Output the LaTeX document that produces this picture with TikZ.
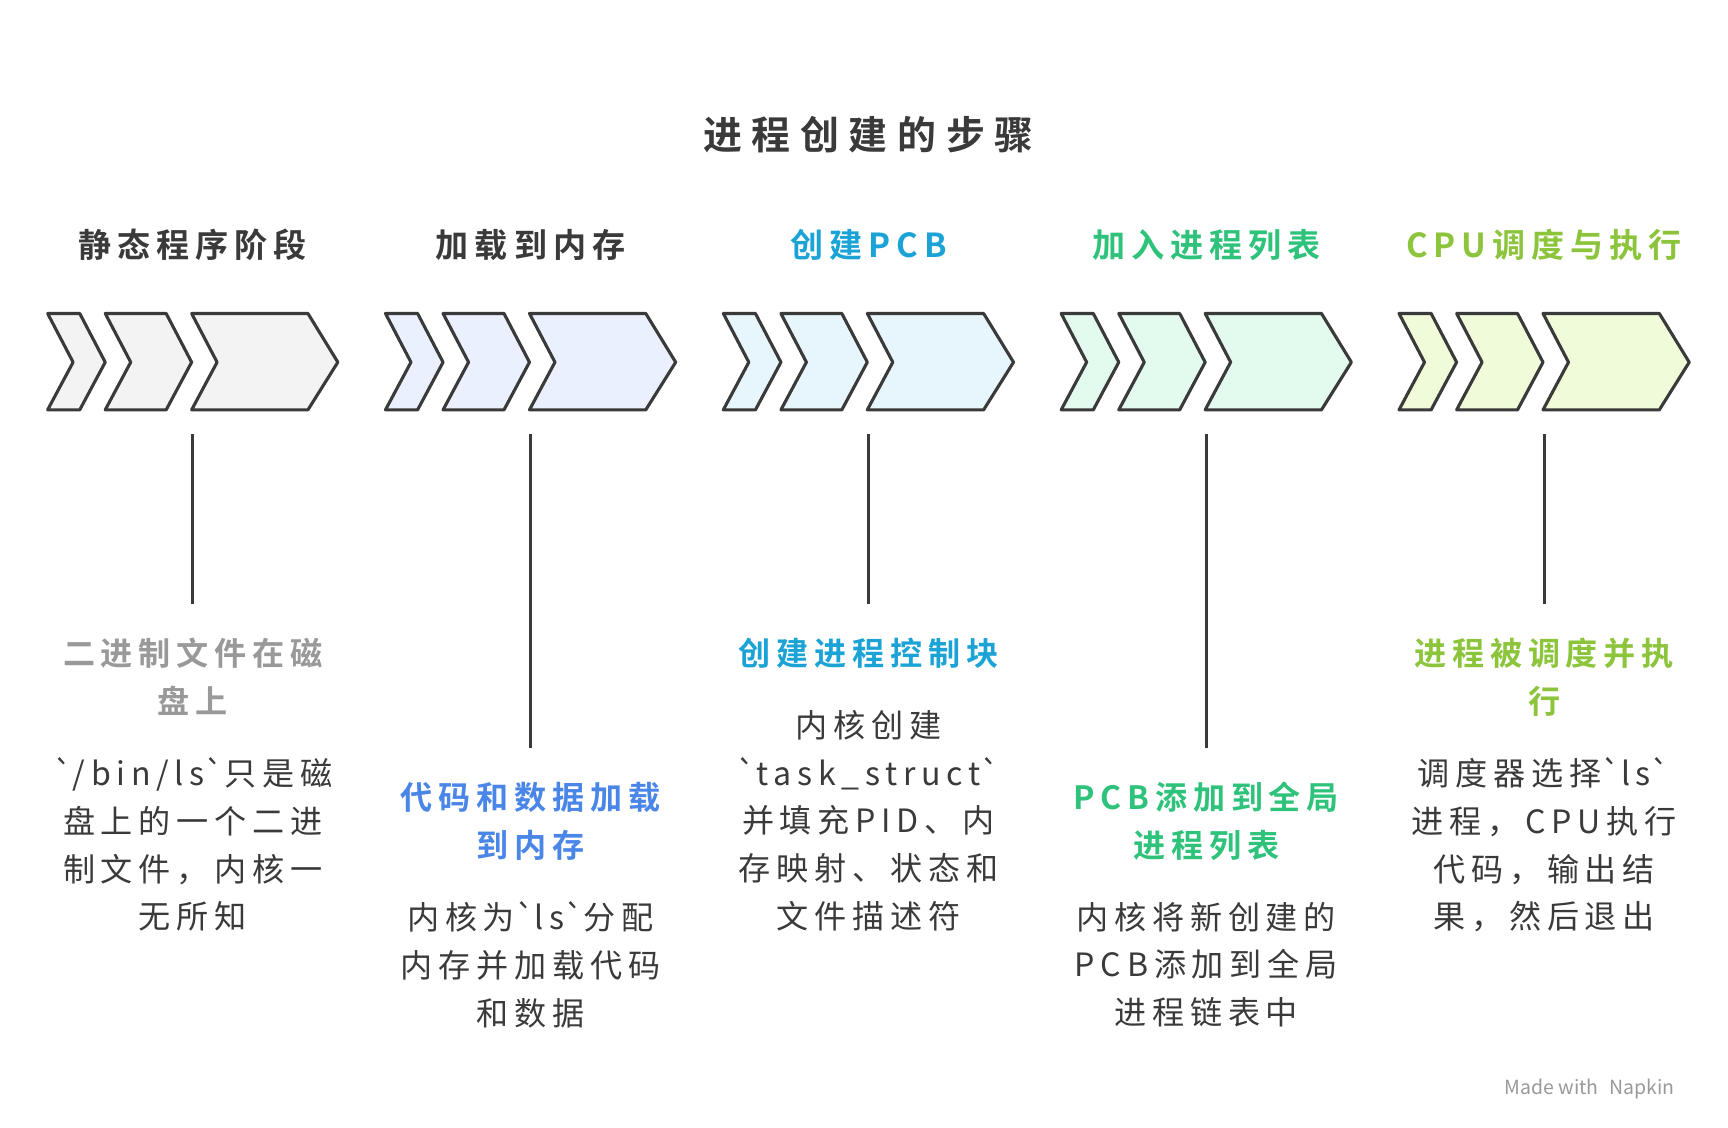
\documentclass[tikz,border=0pt]{standalone}
\usepackage{fontspec}
\setmainfont{Noto Sans CJK SC}
\newfontfamily\cjk[LetterSpace=18]{Noto Sans CJK SC}
\newfontfamily\cjkb[LetterSpace=18]{Noto Sans CJK SC Bold}
\newfontfamily\cjkt[LetterSpace=25]{Noto Sans CJK SC Bold}
\newcommand{\bq}{\textasciigrave}
\definecolor{dk}{HTML}{3A3A3A}
\definecolor{cA}{HTML}{999999}
\definecolor{cB}{HTML}{4A86E8}
\definecolor{cC}{HTML}{1BA3D6}
\definecolor{cD}{HTML}{2EC27A}
\definecolor{cE}{HTML}{8CC43C}
\definecolor{fA}{HTML}{F3F3F3}
\definecolor{fB}{HTML}{EAF0FD}
\definecolor{fC}{HTML}{E7F6FD}
\definecolor{fD}{HTML}{E3FAEF}
\definecolor{fE}{HTML}{F0FBDA}
\begin{document}
\begin{tikzpicture}[x=0.02cm,y=-0.02cm,
 chev/.style={draw=dk,line width=1.6pt,line join=round},
 stem/.style={draw=dk,line width=1.6pt},
 top/.style={font=\cjkb\fontsize{17}{20}\selectfont,anchor=center},
 head/.style={font=\cjkb\fontsize{16.5}{24.5}\selectfont,align=center,anchor=north},
 body/.style={font=\cjk\fontsize{16.5}{24.5}\selectfont,align=center,anchor=north,text=dk}]
\useasboundingbox (0,0) rectangle (1560,1018);
\node[font=\cjkt\fontsize{20}{24}\selectfont,text=dk] (title) at (784,122) {进程创建的步骤};
\foreach \i/\f in {0/fA,1/fB,2/fC,3/fD,4/fE}{
 \begin{scope}[xshift=\i*305*0.02cm]
 \draw[chev,fill=\f] (43,283)--(72,283)--(95,327)--(72,370)--(43,370)--(66,327)--cycle;
 \draw[chev,fill=\f] (95,283)--(150,283)--(173,327)--(150,370)--(95,370)--(118,327)--cycle;
 \draw[chev,fill=\f] (173,283)--(278,283)--(305,327)--(278,370)--(173,370)--(196,327)--cycle;
 \end{scope}}
\node[top,text=dk] (t1) at (174,221) {静态程序阶段};
\node[top,text=dk] (t2) at (479,221) {加载到内存};
\node[top,text=cC] (t3) at (784,221) {创建PCB};
\node[top,text=cD] (t4) at (1089,221) {加入进程列表};
\node[top,text=cE] (t5) at (1394,221) {CPU调度与执行};
\coordinate (a1) at (174,392); \coordinate (b1) at (174,545);
\coordinate (a2) at (479,392); \coordinate (b2) at (479,675);
\coordinate (a3) at (784,392); \coordinate (b3) at (784,545);
\coordinate (a4) at (1089,392); \coordinate (b4) at (1089,675);
\coordinate (a5) at (1394,392); \coordinate (b5) at (1394,545);
\foreach \k in {1,...,5}{\draw[stem] (a\k)--(b\k);}
\node[head,text=cA] (h1) at (174,570) {二进制文件在磁\\盘上};
\node[body] (d1) at (174,678) {\bq/bin/ls\bq 只是磁\\盘上的一个二进\\制文件，内核一\\无所知};
\node[head,text=cB] (h2) at (479,700) {代码和数据加载\\到内存};
\node[body] (d2) at (479,808) {内核为\bq ls\bq 分配\\内存并加载代码\\和数据};
\node[head,text=cC] (h3) at (784,570) {创建进程控制块};
\node[body] (d3) at (784,635) {内核创建\\\bq task\_struct\bq\\并填充PID、内\\存映射、状态和\\文件描述符};
\node[head,text=cD] (h4) at (1089,700) {PCB添加到全局\\进程列表};
\node[body] (d4) at (1089,808) {内核将新创建的\\PCB添加到全局\\进程链表中};
\node[head,text=cE] (h5) at (1394,570) {进程被调度并执\\行};
\node[body] (d5) at (1394,678) {调度器选择\bq ls\bq\\进程，CPU执行\\代码，输出结\\果，然后退出};
\node[font=\fontsize{10}{11}\selectfont,text=cA] (mk) at (1435,983) {Made with \,\,Napkin};
\end{tikzpicture}
\end{document}
